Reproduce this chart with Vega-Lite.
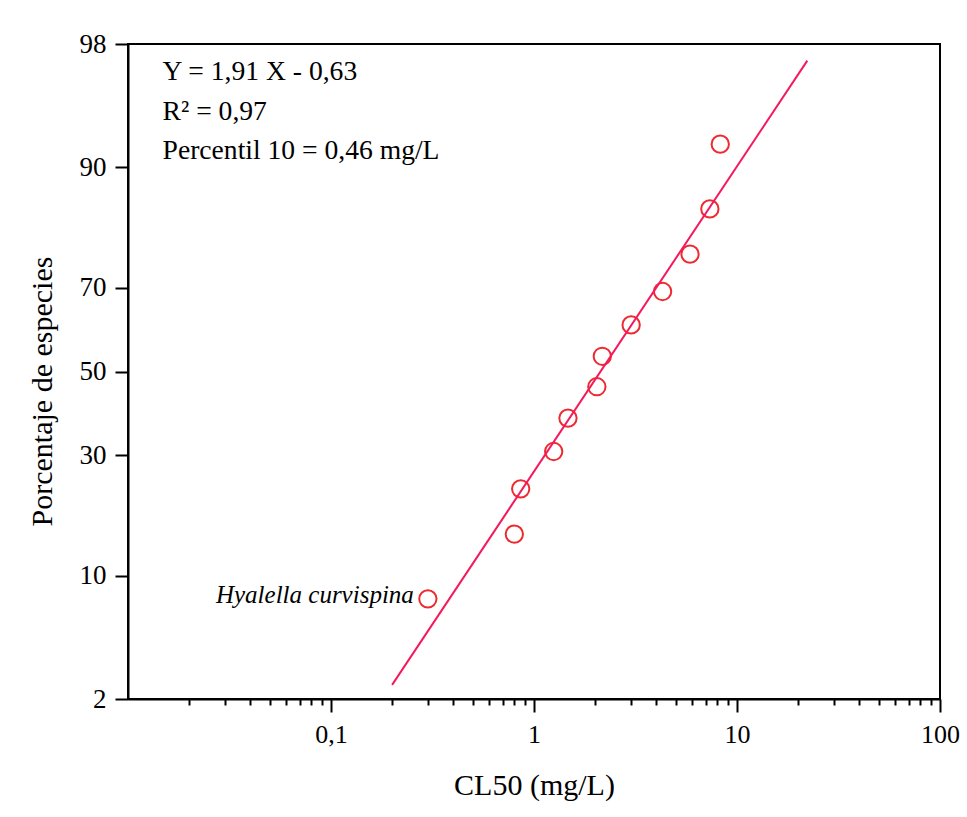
{
  "$schema": "https://vega.github.io/schema/vega-lite/v6.json",
  "width": 812,
  "height": 655,
  "autosize": {"type": "none"},
  "padding": {"left": 128, "top": 44, "right": 27, "bottom": 118},
  "background": "white",
  "config": {
    "font": "Liberation Serif",
    "view": {"stroke": "black", "strokeWidth": 2},
    "axis": {
      "grid": false,
      "domainColor": "black",
      "domainWidth": 2,
      "tickColor": "black",
      "tickWidth": 2,
      "labelColor": "black",
      "titleColor": "black",
      "labelFont": "Liberation Serif",
      "titleFont": "Liberation Serif",
      "labelFontSize": 26,
      "titleFontSize": 30,
      "titleFontWeight": "normal"
    }
  },
  "datasets": {
    "species": [
      {"cl50": 0.30, "pct": 7.7, "label": "Hyalella curvispina"},
      {"cl50": 0.80, "pct": 15.4},
      {"cl50": 0.86, "pct": 23.1},
      {"cl50": 1.25, "pct": 30.8},
      {"cl50": 1.47, "pct": 38.5},
      {"cl50": 2.04, "pct": 46.2},
      {"cl50": 2.17, "pct": 53.8},
      {"cl50": 3.01, "pct": 61.5},
      {"cl50": 4.30, "pct": 69.2},
      {"cl50": 5.87, "pct": 76.9},
      {"cl50": 7.35, "pct": 84.6},
      {"cl50": 8.27, "pct": 92.3}
    ],
    "fit": [
      {"cl50": 0.2, "pct": 2.47},
      {"cl50": 22.2, "pct": 97.44}
    ],
    "note": [
      {"cl50": 0.0148, "pct": 96.62}
    ]
  },
  "resolve": {"axis": {"x": "independent"}},
  "layer": [
    {
      "data": {"name": "species"},
      "transform": [{"calculate": "quantileNormal(datum.pct / 100)", "as": "z"}],
      "mark": {"type": "point", "shape": "circle", "filled": false, "size": 300, "strokeWidth": 2, "color": "#EE2A30", "opacity": 1},
      "encoding": {
        "x": {
          "field": "cl50", "type": "quantitative",
          "scale": {"type": "log", "domain": [0.01, 100]},
          "axis": {
            "orient": "bottom",
            "values": [0.1, 1, 10, 100],
            "labelExpr": "replace(datum.label, '.', ',')",
            "tickSize": 13, "labelPadding": 9, "labelFlush": false,
            "title": "CL50 (mg/L)", "titlePadding": 23
          }
        },
        "y": {
          "field": "z", "type": "quantitative",
          "scale": {"domain": [-2.053749, 2.053749], "nice": false, "zero": false},
          "axis": {
            "orient": "left",
            "values": [-2.053749, -1.281552, -0.524401, 0, 0.524401, 1.281552, 2.053749],
            "labelExpr": "format(cumulativeNormal(datum.value) * 100, '.0f')",
            "tickSize": 13, "labelPadding": 9, "labelFontSize": 27,
            "title": "Porcentaje de especies", "titlePadding": 22, "titleY": 347
          }
        }
      }
    },
    {
      "data": {"name": "fit"},
      "transform": [{"calculate": "quantileNormal(datum.pct / 100)", "as": "z"}],
      "mark": {"type": "line", "color": "#F5185C", "strokeWidth": 2},
      "encoding": {
        "x": {
          "field": "cl50", "type": "quantitative",
          "axis": {
            "orient": "bottom",
            "values": [0.02, 0.03, 0.04, 0.05, 0.06, 0.07, 0.08, 0.09, 0.2, 0.3, 0.4, 0.5, 0.6, 0.7, 0.8, 0.9, 2, 3, 4, 5, 6, 7, 8, 9, 20, 30, 40, 50, 60, 70, 80, 90],
            "tickSize": 6, "labels": false, "domain": false, "title": null
          }
        },
        "y": {"field": "z", "type": "quantitative"}
      }
    },
    {
      "data": {"name": "species"},
      "transform": [
        {"filter": "isValid(datum.label)"},
        {"calculate": "quantileNormal(datum.pct / 100)", "as": "z"}
      ],
      "mark": {"type": "text", "align": "right", "baseline": "alphabetic", "dx": -14, "dy": 4, "fontSize": 25, "fontStyle": "italic", "color": "black", "font": "Liberation Serif"},
      "encoding": {
        "x": {"field": "cl50", "type": "quantitative", "axis": null},
        "y": {"field": "z", "type": "quantitative"},
        "text": {"field": "label"}
      }
    },
    {
      "data": {"name": "note"},
      "transform": [{"calculate": "quantileNormal(datum.pct / 100)", "as": "z"}],
      "mark": {"type": "text", "align": "left", "baseline": "alphabetic", "fontSize": 27.6, "lineHeight": 39.5, "color": "black", "font": "Liberation Serif"},
      "encoding": {
        "x": {"field": "cl50", "type": "quantitative", "axis": null},
        "y": {"field": "z", "type": "quantitative"},
        "text": {"value": ["Y = 1,91 X - 0,63", "R² = 0,97", "Percentil 10 = 0,46 mg/L"]}
      }
    }
  ]
}
